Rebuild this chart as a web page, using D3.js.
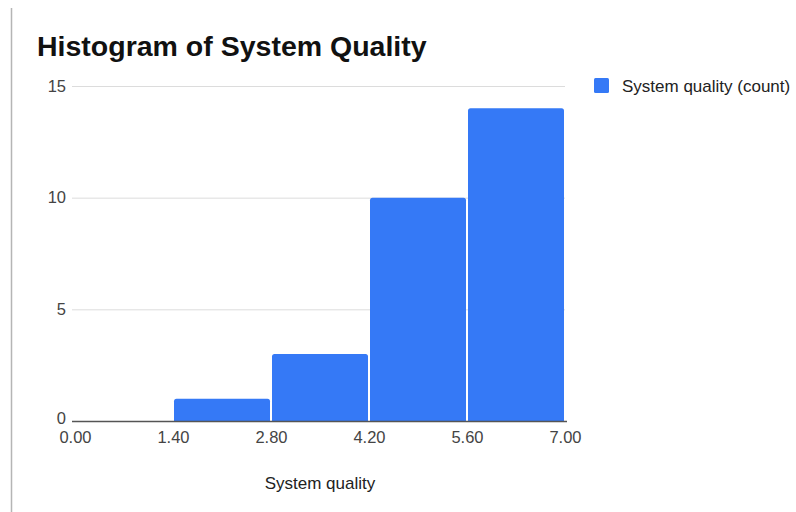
<!DOCTYPE html>
<html>
<head>
<meta charset="utf-8">
<script src="https://cdn.jsdelivr.net/npm/d3@7"></script>
<style>
  html, body { margin: 0; padding: 0; background: #fff; }
  svg { display: block; font-family: "Liberation Sans", Arial, sans-serif; }
</style>
</head>
<body>
<svg id="chart" width="796" height="512"></svg>
<script>
// Histogram bins of system quality scores and their counts
const binEdges = [0.00, 1.40, 2.80, 4.20, 5.60, 7.00];
const binCounts = [0, 1, 3, 10, 14];
const yTicks = [0, 5, 10, 15];
const xTickLabels = ["0.00", "1.40", "2.80", "4.20", "5.60", "7.00"];
const seriesName = "System quality (count)";
const chartTitle = "Histogram of System Quality";
const xTitle = "System quality";

const svg = d3.select("#chart");
const barColor = "#3579f6";
const fontStack = "Liberation Sans, Arial, sans-serif";

const plot = { left: 75, right: 565, top: 86, bottom: 421 };

const x = d3.scaleLinear().domain([0, 7]).range([plot.left, plot.right]);
const y = d3.scaleLinear().domain([0, 15]).range([plot.bottom, plot.top]);

// thin frame line on the left edge
svg.append("line")
  .attr("x1", 11.5).attr("x2", 11.5).attr("y1", 8).attr("y2", 512)
  .attr("stroke", "#b5b5b5").attr("stroke-width", 1.5);

// title
svg.append("text")
  .attr("x", 37).attr("y", 56)
  .attr("font-size", 28.5).attr("font-weight", "bold").attr("fill", "#111")
  .text(chartTitle);

// horizontal gridlines + y labels
const yAxis = d3.axisLeft(y).tickValues(yTicks).tickSize(-(plot.right - plot.left + 3)).tickPadding(6);
const gy = svg.append("g").attr("transform", `translate(${plot.left - 3},0)`).call(yAxis);
gy.select(".domain").remove();
gy.selectAll(".tick line").attr("stroke", "#dcdcdc").attr("stroke-width", 1);
gy.selectAll(".tick text").attr("font-size", 16.5).attr("fill", "#444").attr("font-family", fontStack);
const zeroTick = gy.selectAll(".tick").filter(d => d === 0);
zeroTick.select("line").remove();
// lift the zero label a little so it clears the x tick labels underneath
zeroTick.select("text").attr("dy", "0.18em");

// bars with slightly rounded top corners
const bins = binCounts.map((c, i) => ({ x0: binEdges[i], x1: binEdges[i + 1], count: c }))
  .filter(d => d.count > 0);
const r = 2.5;
svg.append("g").selectAll("path").data(bins).join("path")
  .attr("fill", barColor)
  .attr("d", d => {
    const x0 = x(d.x0) + 1, x1 = x(d.x1) - 1;
    const y0 = y(d.count), yb = y(0);
    return `M${x0},${yb} L${x0},${y0 + r} Q${x0},${y0} ${x0 + r},${y0} L${x1 - r},${y0} Q${x1},${y0} ${x1},${y0 + r} L${x1},${yb} Z`;
  });

// baseline
svg.append("line")
  .attr("x1", plot.left - 3).attr("x2", plot.right + 2)
  .attr("y1", y(0) + 0.5).attr("y2", y(0) + 0.5)
  .attr("stroke", "#555").attr("stroke-width", 1.5);

// x tick labels
const xAxis = d3.axisBottom(x).tickValues(binEdges).tickFormat((d, i) => xTickLabels[i]).tickSize(0).tickPadding(10);
const gx = svg.append("g").attr("transform", `translate(0,${y(0)})`).call(xAxis);
gx.select(".domain").remove();
gx.selectAll(".tick text").attr("font-size", 16.5).attr("fill", "#444").attr("font-family", fontStack);

// x axis title
svg.append("text")
  .attr("x", (plot.left + plot.right) / 2).attr("y", 489)
  .attr("text-anchor", "middle").attr("font-size", 17).attr("fill", "#222")
  .text(xTitle);

// legend
const lg = svg.append("g");
lg.append("rect").attr("x", 594).attr("y", 78).attr("width", 15).attr("height", 15).attr("rx", 1.5).attr("fill", barColor);
lg.append("text").attr("x", 622).attr("y", 91.5).attr("font-size", 17).attr("fill", "#222").text(seriesName);
</script>
</body>
</html>
